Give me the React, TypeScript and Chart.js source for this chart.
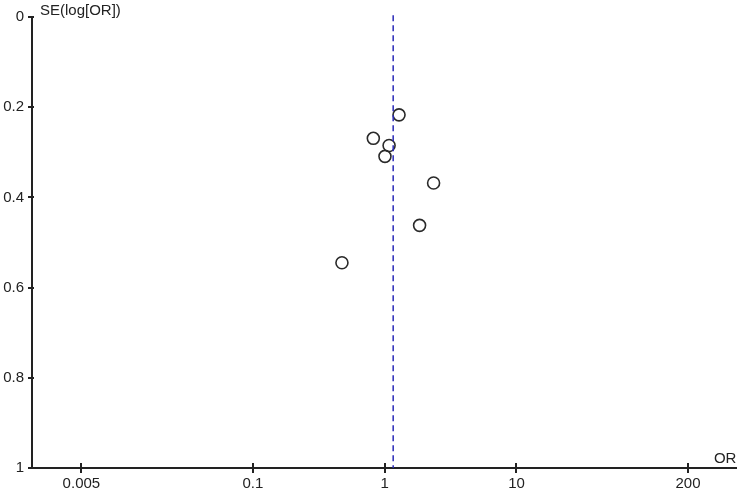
import React, { useEffect, useRef } from "react";
import { Chart, registerables } from "chart.js";

Chart.register(...registerables);

// Study odds ratios and standard errors of log(OR)
const studyOR = [1.285, 0.82, 1.08, 1.005, 2.35, 1.84, 0.474];
const studySE = [0.217, 0.269, 0.285, 0.309, 0.368, 0.462, 0.545];
const pooledOR = 1.16;
const xTickValues = [0.005, 0.1, 1, 10, 200];
const yTickValues = [0, 0.2, 0.4, 0.6, 0.8, 1];
const xMin = 0.00211;
const xMax = 466;
const yTitle = "SE(log[OR])";
const xTitle = "OR";

const FONT = "'Liberation Sans', Arial, sans-serif";
const INK = "#222";

const extrasPlugin = {
  id: "extras",
  afterDraw(chart: any) {
    const ctx = chart.ctx;
    const xs = chart.scales.x;
    const ys = chart.scales.y;
    const area = chart.chartArea;
    ctx.save();
    ctx.strokeStyle = INK;
    ctx.lineWidth = 2;
    xs.ticks.forEach((t: any) => {
      const px = Math.round(xs.getPixelForValue(t.value));
      ctx.beginPath();
      ctx.moveTo(px, area.bottom);
      ctx.lineTo(px, area.bottom - 5);
      ctx.stroke();
    });
    ys.ticks.forEach((t: any) => {
      const py = Math.round(ys.getPixelForValue(t.value));
      ctx.beginPath();
      ctx.moveTo(area.left, py);
      ctx.lineTo(area.left + 2, py);
      ctx.stroke();
    });
    ctx.fillStyle = INK;
    ctx.font = `15px ${FONT}`;
    ctx.textBaseline = "alphabetic";
    ctx.textAlign = "left";
    ctx.fillText(yTitle, area.left + 8, 15);
    ctx.textAlign = "right";
    ctx.fillText(xTitle, area.right, area.bottom - 5);
    ctx.restore();
  },
};

export default function App() {
  const ref = useRef<HTMLCanvasElement>(null);

  useEffect(() => {
    if (!ref.current) return;
    const points = studyOR.map((v, i) => ({ x: v, y: studySE[i] }));
    const chart = new Chart(ref.current, {
      type: "scatter",
      data: {
        datasets: [
          {
            type: "line",
            data: [
              { x: pooledOR, y: -0.004 },
              { x: pooledOR, y: 1 },
            ],
            borderColor: "#2a2ab8",
            borderWidth: 1.5,
            borderDash: [6, 4],
            pointRadius: 0,
            showLine: true,
            fill: false,
            clip: false,
          } as any,
          {
            data: points,
            pointRadius: 6,
            pointHoverRadius: 6,
            borderColor: "#2a2a2a",
            borderWidth: 1.6,
            backgroundColor: "rgba(255,255,255,0)",
            showLine: false,
          },
        ],
      },
      options: {
        responsive: false,
        animation: false,
        events: [],
        layout: { padding: { top: 17, right: 5, left: 0, bottom: 0 } },
        plugins: {
          legend: { display: false },
          tooltip: { enabled: false },
        },
        scales: {
          x: {
            type: "logarithmic",
            min: xMin,
            max: xMax,
            afterBuildTicks: (s: any) => {
              s.ticks = xTickValues.map((v) => ({ value: v }));
            },
            afterFit: (s: any) => {
              s.height = 24;
            },
            ticks: {
              autoSkip: false,
              maxRotation: 0,
              padding: 2,
              color: INK,
              font: { family: FONT, size: 15 },
              callback: (v: any) => String(v),
            },
            grid: {
              display: true,
              drawOnChartArea: false,
              drawTicks: true,
              tickLength: 5,
              color: INK,
              lineWidth: 2,
            },
            border: { display: true, color: INK, width: 2 },
          },
          y: {
            type: "linear",
            reverse: true,
            min: 0,
            max: 1,
            afterBuildTicks: (s: any) => {
              s.ticks = yTickValues.map((v) => ({ value: v }));
            },
            afterFit: (s: any) => {
              s.width = 32;
            },
            ticks: {
              autoSkip: false,
              padding: 4,
              color: INK,
              font: { family: FONT, size: 15 },
              callback: (v: any) => String(v),
            },
            grid: {
              display: true,
              drawOnChartArea: false,
              drawTicks: true,
              tickLength: 4,
              color: INK,
              lineWidth: 2,
            },
            border: { display: true, color: INK, width: 2 },
          },
        },
      },
      plugins: [extrasPlugin],
    });
    return () => chart.destroy();
  }, []);

  return (
    <div style={{ position: "absolute", left: 0, top: 0, width: 744, height: 492, background: "#fff" }}>
      <canvas ref={ref} width={744} height={492} style={{ display: "block" }} />
    </div>
  );
}
